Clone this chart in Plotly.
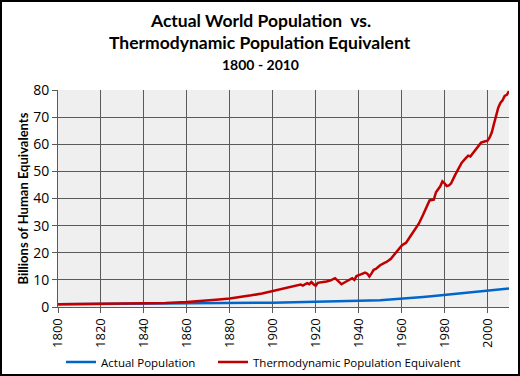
import plotly.graph_objects as go

# Data
thermo_years = [1800, 1810, 1820, 1830, 1840, 1850, 1860, 1870, 1875, 1880, 1885, 1890, 1895,
                1900, 1903, 1906, 1909, 1911, 1913, 1914, 1916, 1917, 1918, 1919, 1920, 1921,
                1923, 1925, 1927, 1929, 1930, 1931, 1932, 1934, 1936, 1937, 1938, 1939, 1941,
                1943, 1944, 1945, 1946, 1947, 1948, 1950, 1952, 1953, 1955, 1957, 1959, 1960,
                1961, 1962, 1964, 1966, 1968, 1970, 1972, 1973, 1975, 1976, 1978, 1979, 1980,
                1981, 1982, 1983, 1985, 1987, 1988, 1990, 1991, 1992, 1993, 1995, 1997, 1999,
                2000, 2001, 2002, 2003, 2004, 2005, 2006, 2007, 2008, 2009, 2010]
thermo_values = [1.0, 1.05, 1.1, 1.2, 1.3, 1.5, 1.8, 2.3, 2.8, 3.1, 3.6, 4.3, 5.0,
                 5.9, 6.3, 6.9, 7.4, 7.8, 8.3, 7.9, 8.8, 8.4, 9.2, 8.4, 7.8, 8.9,
                 9.1, 9.4, 9.8, 10.6, 9.9, 9.0, 8.4, 9.3, 10.2, 10.6, 10.0, 11.4, 12.0,
                 12.7, 12.3, 11.2, 12.4, 13.7, 14.0, 15.4, 16.3, 16.6, 17.8, 19.8, 22.0, 22.6,
                 23.2, 23.6, 26.0, 28.3, 30.7, 34.0, 37.5, 39.3, 39.6, 42.3, 44.5, 46.3, 45.6,
                 44.6, 44.8, 45.5, 48.8, 52.0, 53.2, 55.0, 55.8, 55.5, 56.6, 58.8, 60.6, 61.1,
                 61.3, 62.5, 64.4, 67.5, 70.8, 73.5, 75.2, 76.2, 77.8, 78.2, 79.6]

actual_years = [1800, 1820, 1840, 1860, 1880, 1900, 1910, 1920, 1930, 1940, 1950, 1955,
                1960, 1965, 1970, 1975, 1980, 1985, 1990, 1995, 2000, 2005, 2010]
actual_values = [0.98, 1.05, 1.15, 1.26, 1.4, 1.6, 1.75, 1.86, 2.07, 2.3, 2.52, 2.77,
                 3.02, 3.33, 3.69, 4.07, 4.43, 4.83, 5.26, 5.67, 6.07, 6.45, 6.85]

x_ticks = list(range(1800, 2001, 20))
y_ticks = list(range(0, 81, 10))

title_line1 = "Actual World Population  vs."
title_line2 = "Thermodynamic Population Equivalent"
title_line3 = "1800 - 2010"
y_title = "Billions of Human Equivalents"

fig = go.Figure()
fig.add_trace(go.Scatter(x=actual_years, y=actual_values, mode="lines",
                         name="Actual Population", legend="legend",
                         line=dict(color="#0066CC", width=2.5)))
fig.add_trace(go.Scatter(x=thermo_years, y=thermo_values, mode="lines",
                         name="Thermodynamic Population Equivalent", legend="legend2",
                         line=dict(color="#C00000", width=2.5)))

L, R, T, B = 58, 11, 90, 69
W, H = 520, 376
pw, ph = W - L - R, H - T - B

def px_x(px):
    return (px - L) / pw

def px_y(py):
    return (H - B - py) / ph

legend_common = dict(orientation="h", xref="container", yref="container",
                     y=(H - 362) / H, xanchor="left", yanchor="middle",
                     font=dict(family="Open Sans", size=11.5), bgcolor="rgba(0,0,0,0)",
                     itemwidth=30)

fig.update_layout(
    width=W, height=H,
    margin=dict(l=L, r=R, t=T, b=B, autoexpand=False),
    paper_bgcolor="white",
    plot_bgcolor="#efefef",
    font=dict(family="Open Sans", size=12, color="black"),
    showlegend=True,
    legend=dict(x=61 / W, **legend_common),
    legend2=dict(x=213 / W, **legend_common),
    xaxis=dict(range=[1800, 2010], tickvals=x_ticks, ticktext=[str(v) for v in x_ticks],
               tickangle=-90, showgrid=True, gridcolor="#5a5a5a", gridwidth=1,
               ticks="outside", ticklen=5, tickcolor="#5a5a5a",
               showline=True, linecolor="#5a5a5a", linewidth=1, zeroline=False,
               tickfont=dict(family="Open Sans", size=13)),
    yaxis=dict(range=[0, 80], tickvals=y_ticks, showgrid=True, gridcolor="#5a5a5a", gridwidth=1,
               ticks="outside", ticklen=5, tickcolor="#5a5a5a",
               showline=True, linecolor="#5a5a5a", linewidth=1, zeroline=False,
               tickfont=dict(family="Open Sans", size=14),
               title=dict(text=y_title, font=dict(family="Lato", size=13, weight="bold"),
                          standoff=1)),
)

fig.add_annotation(text="<b>" + title_line1 + "</b>", xref="paper", yref="paper",
                   x=px_x(260), y=px_y(21), showarrow=False,
                   font=dict(family="Lato", size=17.5, color="black"),
                   xanchor="center", yanchor="middle")
fig.add_annotation(text="<b>" + title_line2 + "</b>", xref="paper", yref="paper",
                   x=px_x(260), y=px_y(43), showarrow=False,
                   font=dict(family="Lato", size=17.5, color="black"),
                   xanchor="center", yanchor="middle")
fig.add_annotation(text="<b>" + title_line3 + "</b>", xref="paper", yref="paper",
                   x=px_x(260), y=px_y(64), showarrow=False,
                   font=dict(family="Lato", size=14, color="black"),
                   xanchor="center", yanchor="middle")

fig.add_shape(type="rect", xref="paper", yref="paper",
              x0=px_x(1), x1=px_x(519), y0=px_y(375), y1=px_y(1),
              line=dict(color="black", width=2), fillcolor="rgba(0,0,0,0)", layer="above")

fig.write_html("out.html", config={"displayModeBar": False},
               post_script="document.body.style.margin='0';document.body.style.overflow='hidden';")
